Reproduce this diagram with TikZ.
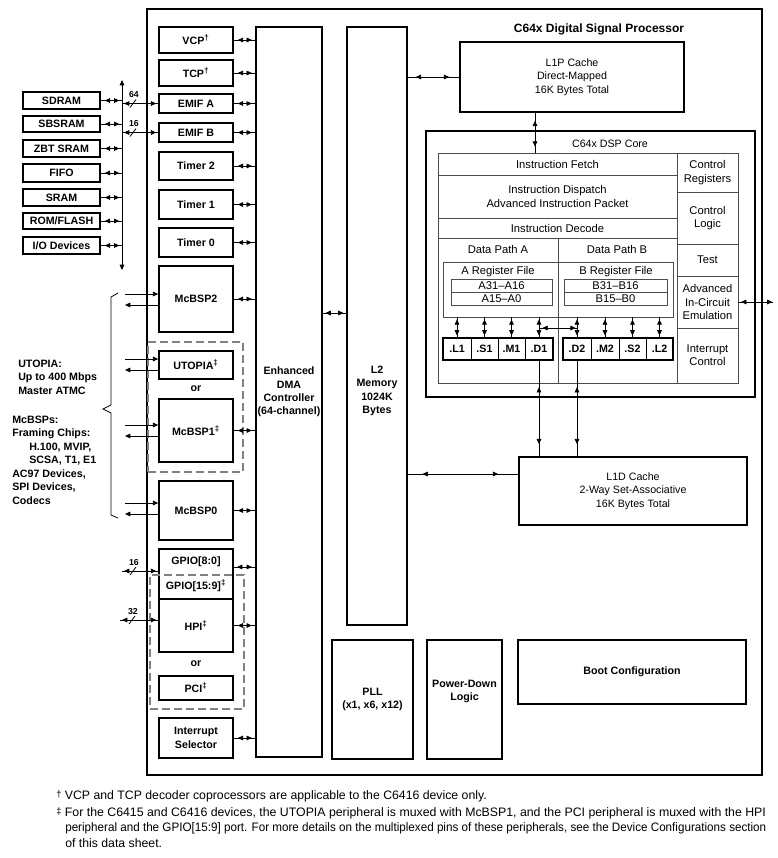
\documentclass[tikz,border=0pt]{standalone}
\usepackage{fontspec}
\usepackage{graphicx}
\setmainfont{Liberation Sans}
\usetikzlibrary{arrows.meta,decorations.markings}
\newcommand\blk[7][]{\node[#1, minimum width={(#4-#2)*0.75pt}, minimum height={(#5-#3)*0.75pt}] (#6) at ({(#2+#4)/2},{(#3+#5)/2}) {#7};}
\tikzset{
 frame/.style={draw, line width=1.3pt, inner sep=0pt},
 box/.style={draw, line width=1.2pt, inner sep=0pt, align=center, font=\fontsize{8}{10}\selectfont\bfseries},
 rbox/.style={box, font=\fontsize{8}{10}\selectfont},
 cell/.style={draw=black!70, line width=0.6pt, inner sep=0pt, align=center, font=\fontsize{8.4}{10}\selectfont},
 ucell/.style={draw, line width=0.7pt, inner sep=0pt, align=center, font=\fontsize{8}{10}\selectfont\bfseries},
 ugrp/.style={draw, line width=1.4pt, inner sep=0pt},
 dbox/.style={draw=black!50, line width=0.8pt, dash pattern=on 6pt off 3pt, inner sep=0pt},
 lbl/.style={inner sep=0pt, align=center, font=\fontsize{8}{10}\selectfont\bfseries},
 rlbl/.style={inner sep=0pt, align=center, font=\fontsize{8.4}{10}\selectfont},
 ltxt/.style={inner sep=0pt, align=left, anchor=west, font=\fontsize{8}{10.1}\selectfont\bfseries},
 num/.style={inner sep=0pt, font=\fontsize{6.5}{7}\selectfont\bfseries},
 fn/.style={inner sep=0pt, anchor=west, font=\fontsize{9.2}{10}\selectfont},
 conn/.style={line width=0.6pt},
 tip/.tip={Triangle[length=4pt,width=3.5pt]},
 bi/.style 2 args={conn, postaction={decorate}, decoration={markings,
   mark=at position #1 with {\arrowreversed{tip}},
   mark=at position -#2 with {\arrow{tip}}}},
 one/.style={conn, -tip},
}
\begin{document}
\begin{tikzpicture}[x=0.75pt,y=-0.75pt]
\useasboundingbox (0,0) rectangle (778,858);
% outer frame
\blk[frame]{147}{9}{762}{775}{outer}{}
\node[lbl, font=\fontsize{9}{10}\selectfont\bfseries] (ttl) at (599,29) {C64x Digital Signal Processor};
% peripheral column
\blk[box]{159}{27}{233}{53}{vcp}{VCP\textsuperscript{†}}
\blk[box]{159}{60}{233}{86}{tcp}{TCP\textsuperscript{†}}
\blk[box]{159}{94}{233}{113}{emifa}{EMIF A}
\blk[box]{159}{123}{233}{142}{emifb}{EMIF B}
\blk[box]{159}{152}{233}{180}{tim2}{Timer 2}
\blk[box]{159}{190}{233}{219}{tim1}{Timer 1}
\blk[box]{159}{228}{233}{257}{tim0}{Timer 0}
\blk[box]{159}{266}{233}{332}{mcbsp2}{McBSP2}
\blk[dbox]{148}{342}{243}{472}{dash1}{}
\blk[box]{159}{351}{233}{379}{utopia}{UTOPIA\textsuperscript{‡}}
\node[lbl] (or1) at (196,389) {or};
\blk[box]{159}{399}{233}{462}{mcbsp1}{McBSP1\textsuperscript{‡}}
\blk[box]{159}{481}{233}{540}{mcbsp0}{McBSP0}
\blk[box]{159}{549}{233}{599}{gpio}{}
\node[lbl] (gpiot1) at (196,562) {GPIO[8:0]};
\node[lbl] (gpiot2) at (196,586) {GPIO[15:9]\textsuperscript{‡}};
\blk[box]{159}{599}{233}{652}{hpi}{HPI\textsuperscript{‡}}
\node[lbl] (or2) at (196,664) {or};
\blk[box]{159}{676}{233}{700}{pci}{PCI\textsuperscript{‡}}
\blk[dbox]{150}{575}{244}{709}{dash2}{}
\blk[box]{159}{718}{233}{758}{intsel}{Interrupt\\Selector}
% DMA and L2
\blk[box]{256}{27}{322}{757}{dma}{Enhanced\\DMA\\Controller\\(64-channel)}
\blk[box]{347}{27}{407}{625}{l2}{}
\node[lbl] (l2t) at (377,391) {L2\\Memory\\1024K\\Bytes};
% L1P
\blk[rbox]{460}{42}{684}{112}{l1p}{L1P Cache\\Direct-Mapped\\16K Bytes Total}
% Core
\blk[box]{426}{131}{755}{397}{core}{}
\node[rlbl, font=\fontsize{8}{10}\selectfont] (coret) at (610,144) {C64x DSP Core};
\blk[cell]{438}{153}{677}{175}{ifetch}{Instruction Fetch}
\blk[cell]{438}{175}{677}{218}{idisp}{Instruction Dispatch\\Advanced Instruction Packet}
\blk[cell]{438}{218}{677}{238}{idec}{Instruction Decode}
\blk[cell]{438}{238}{558}{383}{dpa}{}
\blk[cell]{558}{238}{677}{383}{dpb}{}
\node[rlbl] (dpat) at (498,249) {Data Path A};
\node[rlbl] (dpbt) at (617,249) {Data Path B};
\blk[cell]{677}{153}{738}{192}{creg}{Control\\Registers}
\blk[cell]{677}{192}{738}{244}{clog}{Control\\Logic}
\blk[cell]{677}{244}{738}{276}{test}{Test}
\blk[cell]{677}{276}{738}{328}{aice}{Advanced\\In-Circuit\\Emulation}
\blk[cell]{677}{328}{738}{383}{ictl}{Interrupt\\Control}
\blk[cell]{443}{262}{558}{317}{rfa}{}
\blk[cell]{558}{262}{673}{317}{rfb}{}
\node[rlbl] (rfat) at (498,272) {A Register File};
\node[rlbl] (rfbt) at (616,272) {B Register File};
\blk[cell]{451}{279}{552}{292}{a31}{A31–A16}
\blk[cell]{451}{292}{552}{305}{a15}{A15–A0}
\blk[cell]{564}{279}{667}{292}{b31}{B31–B16}
\blk[cell]{564}{292}{667}{305}{b15}{B15–B0}
% functional units
\blk[ucell]{443}{338}{471}{360}{ul1}{.L1}
\blk[ucell]{471}{338}{498}{360}{us1}{.S1}
\blk[ucell]{498}{338}{525}{360}{um1}{.M1}
\blk[ucell]{525}{338}{553}{360}{ud1}{.D1}
\blk[ugrp]{443}{338}{553}{360}{ga}{}
\blk[ucell]{563}{338}{591}{360}{ud2}{.D2}
\blk[ucell]{591}{338}{619}{360}{um2}{.M2}
\blk[ucell]{619}{338}{646}{360}{us2}{.S2}
\blk[ucell]{646}{338}{673}{360}{ul2}{.L2}
\blk[ugrp]{563}{338}{673}{360}{gb}{}
% L1D
\blk[rbox]{519}{457}{747}{525}{l1d}{L1D Cache\\2-Way Set-Associative\\16K Bytes Total}
% bottom blocks
\blk[box]{332}{640}{413}{759}{pll}{PLL\\(x1, x6, x12)}
\blk[box]{427}{640}{502}{759}{pdl}{Power-Down\\Logic\\[4pt]}
\blk[box]{518}{640}{746}{704}{boot}{Boot Configuration}
% external memories
\blk[box]{23}{92}{100}{109}{sdram}{SDRAM}
\blk[box]{23}{116}{100}{132}{sbsram}{SBSRAM}
\blk[box]{23}{140}{100}{157}{zbt}{ZBT SRAM}
\blk[box]{23}{164}{100}{182}{fifo}{FIFO}
\blk[box]{23}{189}{100}{206}{sram}{SRAM}
\blk[box]{23}{213}{100}{229}{rom}{ROM/FLASH}
\blk[box]{23}{237}{100}{254}{io}{I/O Devices}
% bus
\coordinate (bustop) at (122,80);
\coordinate (busbot) at (122,270);
\draw[conn, tip-tip] (bustop) -- (busbot);
\foreach \m in {sdram,sbsram,zbt,fifo,sram,rom,io}
  \draw[bi={3pt}{2pt}] (\m.east) -- (\m.east -| bustop);
% bus to EMIF
\draw[bi={1.5pt}{1.5pt}] (emifa.west -| bustop) -- (emifa.west);
\draw[bi={1.5pt}{1.5pt}] (emifb.west -| bustop) -- (emifb.west);
\coordinate (s64) at (133,103.5);
\coordinate (s16) at (133,132.5);
\draw[conn] ([shift={(-3,4)}]s64) -- ([shift={(3,-4)}]s64);
\draw[conn] ([shift={(-3,4)}]s16) -- ([shift={(3,-4)}]s16);
\node[num] (n64) at (134,95) {64};
\node[num] (n16) at (134,124) {16};
% peripherals to DMA
\foreach \p in {vcp,tcp,emifa,emifb,tim2,tim1,tim0,mcbsp2,mcbsp1,mcbsp0,hpi,intsel}
  \draw[bi={3pt}{2.5pt}] (\p.east) -- (\p.east -| dma.west);
\coordinate (gpr) at (233,567);
\draw[bi={3pt}{2.5pt}] (gpr) -- (gpr -| dma.west);
% GPIO and HPI external
\coordinate (gpl) at (122,571);
\draw[bi={1.5pt}{1.5pt}] (gpl) -- (gpl -| gpio.west);
\coordinate (sg) at (133,571);
\draw[conn] ([shift={(-3,4)}]sg) -- ([shift={(3,-4)}]sg);
\node[num] (ng16) at (134,563) {16};
\coordinate (hpl) at (120,620);
\draw[bi={1.5pt}{1.5pt}] (hpl) -- (hpl -| hpi.west);
\coordinate (sh) at (132,620);
\draw[conn] ([shift={(-3,4)}]sh) -- ([shift={(3,-4)}]sh);
\node[num] (nh32) at (133,612) {32};
% serial port arrows
\foreach \p/\yi/\yo in {mcbsp2/294/305, utopia/359/370, mcbsp1/425/436, mcbsp0/503/514}{
  \coordinate (\p in) at (125,\yi);
  \coordinate (\p out) at (125,\yo);
  \draw[one] (\p in) -- (\p in -| \p.west);
  \draw[one] (\p out -| \p.west) -- (\p out);
}
% brace
\draw[conn] (118,293) -- (111,297) -- (111,405) -- (103,409) -- (111,413) -- (111,515) -- (118,518);
\node[ltxt] (utt) at (18,377) {UTOPIA:\\Up to 400 Mbps\\Master ATMC};
\node[ltxt] (mct) at (12,460) {McBSPs:\\Framing Chips:\\\hspace*{12.75pt}H.100, MVIP,\\\hspace*{12.75pt}SCSA, T1, E1\\AC97 Devices,\\SPI Devices,\\Codecs};
% DMA - L2
\draw[bi={2pt}{2pt}] (dma.east |- 0,313) -- (l2.west |- 0,313);
% L2 - L1P
\draw[bi={6pt}{7.5pt}] (l2.east |- l1p.west) -- (l1p.west);
% L1P - core
\draw[bi={6pt}{4.5pt}] (l1p.south -| 535,0) -- (ifetch.north -| 535,0);
% L2 - L1D
\draw[bi={11pt}{15pt}] (l2.east |- 0,474) -- (l1d.west |- 0,474);
% register files to units
\foreach \u in {ul1,us1,um1,ud1}
  \draw[bi={1.5pt}{1.5pt}] (\u.north |- rfa.south) -- (\u.north);
\foreach \u in {ud2,um2,us2,ul2}
  \draw[bi={1.5pt}{1.5pt}] (\u.north |- rfb.south) -- (\u.north);
% cross path
\draw[bi={2.5pt}{1pt}] (ud1.north |- 0,328) -- (ud2.north |- 0,328);
% D units to L1D
\draw[bi={20pt}{9pt}] (ud1.south) -- (ud1.south |- l1d.north);
\draw[bi={20pt}{9pt}] (ud2.south) -- (ud2.south |- l1d.north);
% emulation
\coordinate (emu) at (773,302);
\draw[bi={2pt}{0.5pt}] (aice.east |- emu) -- (emu);
% footnotes
\node[fn] (fn1) at (56,796) {\makebox[6.5pt][l]{\raisebox{1pt}{\fontsize{7}{8}\selectfont †}}VCP and TCP decoder coprocessors are applicable to the C6416 device only.};
\node[fn] (fn2) at (56,813) {\makebox[6.5pt][l]{\raisebox{1pt}{\fontsize{7}{8}\selectfont ‡}}\resizebox{525.75pt}{\height}{For the C6415 and C6416 devices, the UTOPIA peripheral is muxed with McBSP1, and the PCI peripheral is muxed with the HPI}};
\node[fn] (fn3) at (65,828) {\resizebox{525.75pt}{\height}{peripheral and the GPIO[15:9] port. For more details on the multiplexed pins of these peripherals, see the Device Configurations section}};
\node[fn] (fn4) at (65,843) {of this data sheet.};
\end{tikzpicture}
\end{document}
